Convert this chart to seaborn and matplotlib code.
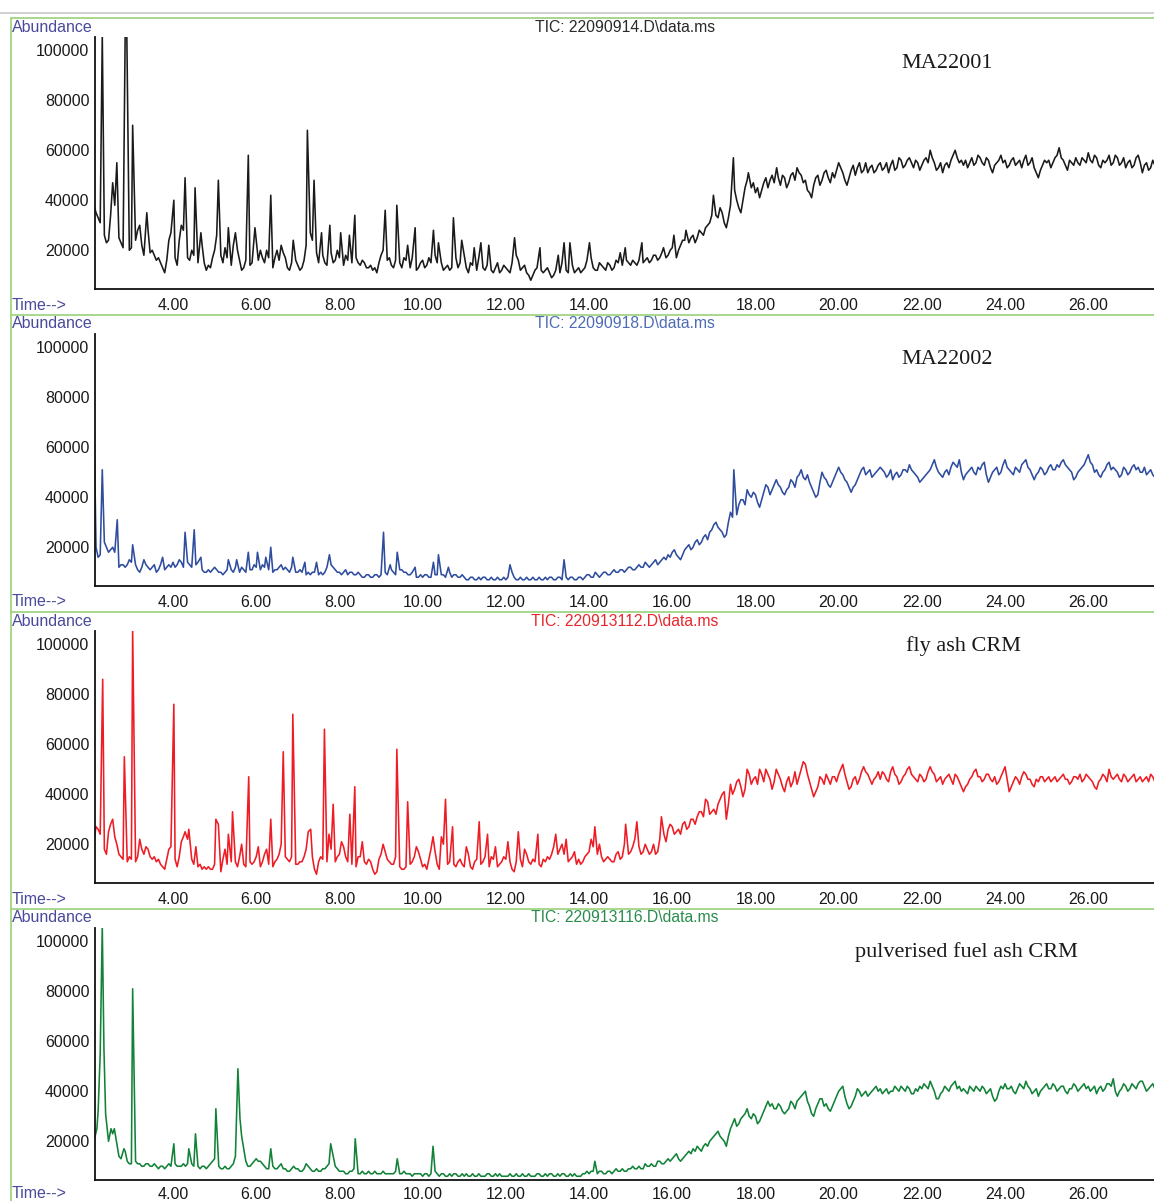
import numpy as np
import pandas as pd
import seaborn as sns
import matplotlib.pyplot as plt
from matplotlib.ticker import MultipleLocator, FormatStrFormatter
from matplotlib.lines import Line2D

sns.set_style('white')
plt.rcParams['font.family'] = ['Liberation Sans', 'DejaVu Sans']

# signal read every 0.1 min from 2.1 min (base) and halfway between (mid),
# plus peak apexes; all abundances in thousands of counts
scan_start = 2.1
scan_step = 0.1

ma22001_base = [38, 33, 30, 23, 34, 38, 25, 21, 24,
                21, 24, 30, 18, 28, 20, 16, 15, 11, 24,
                28, 14, 30, 24, 16, 18, 15, 22, 12, 13,
                20, 30, 15, 17, 14, 27, 16, 13, 18, 15,
                24, 20, 15, 17, 13, 20, 22, 17, 12, 18,
                14, 13, 22, 27, 22, 15, 18, 14, 19, 16,
                17, 14, 16, 15, 17, 14, 15, 13, 12, 11,
                18, 22, 17, 13, 18, 13, 16, 13, 15, 13,
                16, 14, 15, 18, 13, 12, 14, 13, 17, 15,
                18, 11, 14, 12, 15, 12, 13, 11, 15, 12,
                13, 11, 14, 16, 13, 11, 8, 12, 14, 11,
                13, 9, 12, 11, 13, 11, 14, 12, 11, 13,
                15, 13, 12, 14, 12, 14, 13, 15, 14, 16,
                14, 15, 16, 15, 17, 16, 18, 17, 19, 18,
                21, 17, 22, 24, 23, 26, 25, 27, 29, 31,
                36, 33, 35, 29, 38, 44, 37, 40, 48, 45,
                43, 41, 47, 45, 50, 52, 46, 49, 47, 51,
                53, 50, 48, 43, 46, 50, 48, 52, 47, 49,
                55, 51, 46, 52, 50, 55, 52, 51, 54, 52,
                55, 53, 51, 56, 53, 56, 54, 57, 53, 55,
                54, 57, 60, 55, 53, 51, 55, 56, 60, 55,
                54, 53, 57, 55, 57, 54, 56, 51, 55, 58,
                56, 54, 57, 55, 53, 58, 55, 53, 49, 54,
                55, 53, 57, 61, 56, 52, 55, 57, 54, 56,
                59, 55, 57, 53, 55, 58, 55, 57, 55, 53,
                56, 54, 58, 51, 55, 53, 54]
ma22001_mid = [35, 31, 26, 24, 42, 30, 23, 25, 20,
               26, 28, 22, 24, 19, 18, 17, 13, 16, 27,
               17, 24, 28, 17, 20, 16, 20, 15, 14, 17,
               26, 18, 21, 15, 22, 20, 12, 16, 14, 19,
               16, 17, 20, 14, 17, 16, 19, 13, 15, 16,
               12, 16, 30, 24, 19, 17, 15, 17, 15, 20,
               15, 18, 13, 19, 15, 16, 13, 14, 13, 15,
               20, 16, 14, 16, 15, 17, 14, 17, 12, 15,
               13, 17, 20, 15, 15, 13, 12, 19, 13, 14,
               13, 15, 11, 17, 13, 14, 12, 13, 11, 14,
               12, 15, 18, 12, 14, 10, 10, 13, 12, 12,
               11, 10, 14, 15, 12, 13, 11, 13, 12, 16,
               17, 12, 15, 13, 15, 12, 16, 13, 17, 15,
               16, 14, 17, 16, 15, 18, 16, 19, 17, 20,
               19, 20, 24, 21, 25, 23, 28, 26, 30, 34,
               34, 37, 31, 33, 46, 40, 35, 45, 44, 47,
               45, 44, 49, 48, 47, 49, 50, 45, 50, 48,
               51, 47, 44, 41, 49, 46, 51, 49, 51, 52,
               53, 48, 49, 54, 53, 51, 55, 53, 51, 54,
               52, 55, 54, 52, 57, 53, 56, 55, 56, 52,
               56, 55, 57, 52, 55, 54, 53, 58, 57, 56,
               56, 55, 54, 58, 55, 57, 53, 54, 56, 55,
               53, 56, 54, 56, 56, 54, 57, 51, 52, 56,
               56, 55, 58, 57, 54, 56, 54, 55, 57, 55,
               56, 58, 54, 56, 56, 54, 58, 54, 57, 55,
               53, 57, 55, 54, 52, 56]
ma22001_peak_t = [2.30, 2.55, 2.65, 2.85, 2.89, 3.03, 3.37, 4.02, 4.29, 4.53, 4.67, 5.09,
                  5.33, 5.81, 5.97, 6.35, 6.89, 7.23, 7.39, 7.57, 7.77, 8.03, 8.24, 8.37,
                  9.10, 9.38, 9.64, 9.82, 10.26, 10.38, 10.74, 10.94, 11.24, 11.40, 11.59,
                  12.21, 12.82, 13.26, 13.40, 13.54, 14.01, 14.75, 14.87, 15.27, 15.79,
                  16.04, 16.33, 16.99, 17.47, 17.83, 18.51]
ma22001_peak_k = [106, 47, 55, 106, 106, 70, 35, 40, 49, 45, 27, 48,
                  29, 58, 29, 42, 24, 68, 48, 27, 30, 27, 26, 34,
                  36, 38, 22, 29, 28, 23, 33, 24, 21, 23, 22,
                  25, 21, 18, 23, 23, 23, 19, 21, 23, 21,
                  26, 28, 42, 57, 51, 53]

ma22002_base = [72, 16, 20, 20, 19, 18, 12, 13, 13,
                14, 13, 10, 15, 12, 12, 10, 13, 11, 13,
                14, 13, 14, 13, 13, 14, 14, 11, 10, 10,
                12, 10, 9, 11, 11, 12, 10, 11, 12, 11,
                12, 11, 12, 11, 10, 11, 13, 12, 10, 11,
                10, 10, 9, 9, 10, 9, 9, 12, 13, 11,
                10, 10, 9, 10, 9, 9, 8, 9, 8, 9,
                9, 10, 9, 10, 12, 11, 10, 9, 9, 8,
                8, 9, 8, 9, 8, 9, 8, 8, 9, 8,
                8, 7, 8, 7, 7, 8, 7, 7, 8, 7,
                7, 9, 8, 7, 7, 8, 7, 7, 8, 7,
                7, 8, 7, 8, 7, 7, 8, 7, 8, 8,
                9, 8, 9, 9, 10, 9, 11, 10, 11, 11,
                12, 11, 13, 12, 13, 13, 15, 14, 16, 17,
                18, 17, 15, 19, 21, 20, 23, 22, 25, 26,
                29, 28, 26, 25, 34, 35, 37, 39, 43, 40,
                41, 36, 42, 44, 43, 47, 44, 41, 44, 46,
                48, 51, 47, 46, 42, 41, 50, 47, 44, 48,
                52, 49, 46, 42, 45, 49, 52, 50, 48, 50,
                52, 50, 49, 47, 50, 49, 51, 53, 50, 48,
                47, 49, 51, 55, 50, 48, 51, 52, 53, 55,
                47, 50, 52, 49, 51, 54, 46, 50, 52, 50,
                55, 51, 49, 51, 53, 55, 51, 47, 50, 51,
                50, 53, 51, 52, 55, 52, 50, 48, 51, 53,
                57, 53, 51, 48, 51, 54, 52, 50, 49, 51,
                50, 53, 52, 50, 49, 51, 48]
ma22002_mid = [20, 17, 22, 18, 20, 15, 13, 12, 15,
               12, 11, 12, 13, 11, 13, 11, 12, 12, 12,
               12, 15, 12, 14, 12, 13, 12, 10, 11, 11,
               11, 10, 10, 12, 10, 11, 12, 10, 11, 13,
               10, 13, 11, 12, 11, 12, 11, 11, 12, 10,
               11, 9, 10, 10, 9, 10, 10, 14, 12, 10,
               9, 11, 10, 9, 10, 8, 9, 8, 9, 8,
               10, 9, 11, 9, 11, 10, 9, 10, 8, 9,
               9, 8, 10, 9, 9, 8, 10, 9, 8, 9,
               7, 8, 7, 8, 8, 7, 8, 7, 7, 8,
               8, 10, 7, 8, 7, 7, 8, 7, 7, 8,
               8, 7, 8, 7, 8, 8, 7, 8, 7, 9,
               8, 10, 8, 10, 9, 10, 10, 11, 10, 12,
               11, 12, 12, 14, 12, 14, 13, 15, 15, 16,
               19, 16, 17, 20, 19, 22, 21, 24, 23, 27,
               30, 27, 24, 30, 32, 33, 39, 37, 41, 42,
               38, 39, 45, 41, 45, 45, 42, 43, 47, 44,
               49, 48, 49, 44, 40, 46, 48, 45, 46, 50,
               50, 47, 44, 44, 47, 51, 49, 51, 49, 51,
               51, 48, 51, 49, 48, 51, 50, 51, 49, 46,
               48, 50, 53, 52, 49, 50, 49, 54, 52, 50,
               49, 51, 50, 52, 53, 49, 48, 51, 49, 53,
               52, 50, 52, 50, 54, 52, 49, 49, 52, 49,
               52, 51, 53, 54, 53, 51, 47, 50, 52, 55,
               54, 50, 49, 50, 53, 51, 51, 48, 52, 49,
               52, 51, 50, 52, 50, 49]
ma22002_peak_t = [2.30, 2.66, 3.03, 3.75, 4.29, 4.51, 4.67, 5.33, 5.53, 5.81, 6.03, 6.23,
                  6.35, 6.88, 7.17, 7.45, 7.76, 9.06, 9.22, 9.39, 9.82, 10.26, 10.38,
                  10.62, 12.10, 13.40, 17.48]
ma22002_peak_k = [51, 31, 21, 16, 26, 27, 16, 15, 15, 18, 18, 16,
                  20, 16, 14, 14, 17, 26, 13, 18, 12, 14, 17,
                  12, 13, 15, 51]

flyash_base = [21, 26, 28, 16, 28, 23, 16, 14, 13,
               14, 13, 22, 16, 18, 14, 13, 12, 10, 18,
               20, 11, 21, 17, 20, 12, 11, 10, 10, 10,
               12, 20, 14, 12, 13, 13, 15, 12, 14, 12,
               15, 11, 16, 12, 11, 14, 20, 15, 13, 13,
               12, 13, 18, 20, 10, 13, 14, 13, 18, 13,
               16, 19, 13, 12, 11, 15, 13, 14, 10, 9,
               16, 17, 13, 12, 13, 10, 11, 12, 15, 17,
               11, 10, 18, 17, 10, 20, 12, 16, 11, 14,
               11, 16, 10, 14, 12, 15, 11, 14, 11, 13,
               14, 13, 9, 15, 11, 16, 12, 13, 12, 14,
               15, 16, 17, 18, 16, 13, 15, 12, 12, 15,
               17, 19, 16, 15, 14, 14, 13, 17, 15, 18,
               17, 22, 19, 17, 18, 17, 16, 22, 24, 26,
               27, 25, 24, 29, 27, 30, 31, 33, 35, 32,
               34, 36, 40, 30, 44, 42, 46, 39, 50, 44,
               47, 50, 45, 48, 42, 50, 46, 41, 47, 45,
               44, 50, 52, 45, 39, 43, 46, 48, 44, 47,
               48, 52, 45, 43, 47, 46, 51, 48, 44, 47,
               46, 48, 45, 51, 47, 45, 48, 51, 47, 45,
               47, 46, 51, 48, 46, 44, 47, 46, 48, 45,
               41, 44, 47, 50, 47, 46, 48, 45, 44, 47,
               51, 41, 45, 46, 47, 48, 46, 43, 45, 47,
               46, 45, 47, 46, 48, 46, 45, 47, 48, 46,
               47, 45, 42, 46, 47, 50, 46, 48, 45, 47,
               46, 48, 46, 45, 47, 48, 45]
flyash_mid = [27, 24, 18, 25, 30, 20, 15, 14, 15,
              20, 15, 18, 19, 15, 15, 14, 11, 14, 19,
              14, 15, 23, 22, 14, 19, 12, 11, 11, 10,
              25, 9, 18, 17, 12, 11, 20, 11, 13, 13,
              19, 13, 18, 14, 13, 16, 18, 14, 15, 12,
              13, 15, 25, 15, 8, 15, 14, 24, 14, 15,
              21, 15, 14, 13, 15, 21, 12, 13, 8, 14,
              20, 14, 12, 15, 11, 10, 12, 13, 19, 14,
              12, 14, 23, 12, 23, 13, 13, 12, 13, 12,
              19, 11, 13, 14, 13, 12, 15, 19, 12, 15,
              21, 10, 13, 14, 18, 13, 14, 15, 11, 13,
              14, 19, 16, 20, 22, 14, 17, 14, 13, 16,
              22, 17, 20, 13, 15, 13, 16, 14, 20, 16,
              19, 29, 16, 20, 16, 20, 17, 25, 21, 28,
              24, 26, 28, 26, 30, 28, 33, 31, 37, 33,
              32, 38, 41, 36, 40, 45, 43, 42, 48, 46,
              44, 48, 50, 46, 45, 48, 43, 45, 43, 49,
              47, 53, 48, 42, 41, 47, 44, 46, 47, 45,
              50, 48, 42, 46, 44, 49, 49, 46, 46, 49,
              49, 46, 49, 48, 44, 47, 50, 48, 46, 48,
              45, 49, 49, 45, 47, 46, 48, 44, 47, 43,
              43, 46, 49, 47, 45, 48, 46, 47, 45, 49,
              46, 43, 47, 44, 49, 46, 44, 46, 47, 45,
              47, 46, 45, 47, 46, 44, 47, 46, 45, 48,
              46, 43, 45, 48, 45, 47, 47, 46, 48, 45,
              47, 45, 47, 46, 45, 47]
flyash_peak_t = [2.31, 2.83, 3.03, 4.02, 4.29, 4.38, 5.03, 5.09, 5.33, 5.43, 5.82, 6.35,
                 6.65, 6.88, 7.31, 7.64, 7.85, 8.25, 8.37, 9.38, 9.64, 10.55, 10.72,
                 11.36, 11.56, 12.30, 12.77, 13.20, 14.14, 14.88, 15.74, 16.80]
flyash_peak_k = [86, 55, 106, 76, 25, 26, 30, 28, 24, 33, 47, 30,
                 57, 72, 26, 66, 36, 32, 43, 58, 37, 38, 27,
                 29, 24, 25, 24, 24, 27, 28, 31, 38]

pfa_base = [20, 32, 60, 24, 22, 22, 14, 15, 12,
            11, 12, 11, 10, 11, 10, 10, 10, 9, 11,
            12, 10, 10, 10, 12, 10, 10, 10, 9, 11,
            13, 10, 9, 9, 10, 14, 28, 17, 10, 11,
            13, 12, 10, 9, 10, 9, 11, 9, 8, 10,
            9, 8, 11, 9, 8, 8, 9, 10, 12, 10,
            8, 8, 7, 8, 8, 7, 7, 8, 7, 7,
            7, 7, 7, 7, 8, 7, 7, 7, 7, 7,
            6, 7, 7, 8, 6, 7, 6, 6, 7, 6,
            6, 6, 7, 6, 6, 6, 7, 6, 6, 6,
            6, 7, 6, 6, 7, 6, 6, 6, 7, 6,
            6, 7, 6, 6, 7, 6, 6, 6, 6, 7,
            7, 8, 7, 8, 7, 8, 8, 8, 9, 8,
            9, 9, 10, 9, 10, 11, 10, 12, 11, 13,
            13, 15, 12, 14, 16, 17, 18, 16, 19, 20,
            22, 24, 21, 18, 25, 29, 27, 30, 33, 29,
            30, 28, 32, 36, 35, 33, 34, 31, 33, 35,
            36, 38, 40, 34, 30, 35, 37, 35, 32, 36,
            40, 42, 35, 34, 38, 40, 39, 38, 40, 42,
            41, 40, 39, 40, 41, 42, 40, 41, 39, 40,
            41, 42, 44, 40, 37, 40, 41, 42, 44, 42,
            41, 39, 41, 42, 40, 41, 40, 38, 37, 42,
            43, 41, 40, 41, 42, 44, 41, 40, 38, 41,
            43, 41, 42, 41, 42, 39, 41, 42, 41, 43,
            42, 41, 39, 42, 41, 43, 45, 38, 41, 42,
            41, 42, 43, 44, 40, 42, 41]
pfa_mid = [25, 55, 45, 20, 23, 19, 13, 16, 11,
           12, 11, 10, 11, 10, 11, 9, 10, 10, 10,
           11, 10, 11, 11, 11, 12, 9, 10, 10, 12,
           12, 9, 10, 9, 11, 20, 22, 12, 10, 12,
           12, 11, 9, 10, 9, 10, 9, 8, 9, 9,
           8, 9, 10, 8, 9, 8, 9, 11, 14, 9,
           8, 7, 8, 9, 7, 8, 7, 7, 8, 7,
           8, 7, 7, 8, 7, 8, 7, 6, 7, 7,
           7, 6, 8, 7, 7, 6, 7, 7, 6, 7,
           7, 6, 6, 7, 6, 7, 6, 7, 7, 6,
           6, 6, 7, 6, 6, 7, 6, 7, 6, 7,
           7, 6, 7, 7, 6, 7, 7, 6, 7, 8,
           8, 7, 8, 7, 8, 7, 9, 8, 8, 9,
           10, 9, 9, 11, 10, 10, 12, 11, 12, 12,
           14, 13, 13, 15, 15, 16, 17, 18, 18, 21,
           23, 22, 20, 22, 27, 26, 29, 31, 30, 31,
           27, 30, 34, 34, 33, 35, 32, 32, 36, 33,
           37, 39, 36, 31, 33, 37, 34, 33, 34, 38,
           41, 38, 33, 36, 41, 38, 40, 39, 41, 40,
           39, 41, 40, 42, 40, 41, 42, 39, 41, 42,
           43, 41, 42, 37, 39, 42, 40, 43, 41, 40,
           40, 42, 40, 41, 42, 39, 41, 36, 40, 41,
           41, 42, 39, 43, 41, 42, 39, 41, 40, 42,
           41, 43, 40, 42, 40, 41, 43, 40, 42, 41,
           40, 42, 41, 40, 43, 42, 40, 40, 43, 40,
           43, 41, 44, 42, 41, 43]
pfa_peak_t = [2.17, 2.25, 2.30, 2.34, 2.38, 2.51, 2.59, 2.82, 3.03, 4.02, 4.38, 4.54,
              5.03, 5.56, 5.61, 6.35, 7.79, 8.38, 9.39, 10.25, 14.14]
pfa_peak_k = [25, 55, 106, 57, 31, 25, 25, 17, 81, 19, 17, 23,
              33, 49, 29, 17, 19, 21, 13, 18, 12]

titles = ['TIC: 22090914.D\\data.ms', 'TIC: 22090918.D\\data.ms',
          'TIC: 220913112.D\\data.ms', 'TIC: 220913116.D\\data.ms']
samples = ['MA22001', 'MA22002', 'fly ash CRM', 'pulverised fuel ash CRM']
line_colors = ['#1a1a1a', '#2f4d9e', '#ee1c24', '#118238']
title_colors = ['#2a2a2a', '#4d6cb5', '#e8262b', '#2a8c4c']
sample_x = [947, 947, 963, 966]
sample_y = [63, 359, 646, 952]


def build_trace(base, mid, peak_t, peak_k):
    t_base = np.round(scan_start + scan_step * np.arange(len(base)), 2)
    t_mid = np.round(scan_start + scan_step / 2 + scan_step * np.arange(len(mid)), 3)
    t = np.concatenate([t_base, t_mid])
    v = np.concatenate([base, mid])
    pt = np.array(peak_t)
    keep = np.array([np.min(np.abs(pt - x)) > 0.025 for x in t])
    df = pd.DataFrame({'time': np.concatenate([t[keep], pt]),
                       'abundance': np.concatenate([v[keep], peak_k]) * 1000.0})
    return df.sort_values('time').reset_index(drop=True)


traces = [build_trace(ma22001_base, ma22001_mid, ma22001_peak_t, ma22001_peak_k),
          build_trace(ma22002_base, ma22002_mid, ma22002_peak_t, ma22002_peak_k),
          build_trace(flyash_base, flyash_mid, flyash_peak_t, flyash_peak_k),
          build_trace(pfa_base, pfa_mid, pfa_peak_t, pfa_peak_k)]

W, H = 1154, 1201
fig = plt.figure(figsize=(W / 100, H / 100), dpi=100)
label_blue = '#4a4a9c'
frame_green = '#a3d483'


def fx(px):
    return px / W


def fy(py):
    return 1 - py / H


for i, df in enumerate(traces):
    off = 297 * i
    last = i == len(traces) - 1
    ax = fig.add_axes([fx(95), fy(289 + off), (W - 95) / W, 252 / H])
    sns.lineplot(data=df, x='time', y='abundance', ax=ax, color=line_colors[i],
                 linewidth=1.15, estimator=None, sort=False)
    ax.set_xlim(2.125, 27.58)
    ax.set_ylim(4500, 105300)
    ax.set_xlabel('')
    ax.set_ylabel('')
    sns.despine(ax=ax)
    for s in ['left', 'bottom']:
        ax.spines[s].set_linewidth(1.3)
        ax.spines[s].set_color('#111111')
    ax.xaxis.set_major_locator(MultipleLocator(2))
    ax.xaxis.set_minor_locator(MultipleLocator(0.4))
    ax.xaxis.set_major_formatter(FormatStrFormatter('%.2f'))
    ax.yaxis.set_major_locator(MultipleLocator(20000))
    ax.yaxis.set_minor_locator(MultipleLocator(4000))
    ax.yaxis.set_major_formatter(FormatStrFormatter('%d'))
    ax.tick_params(axis='x', which='major', direction='out', length=5, width=1.1,
                   pad=0.2 if last else 1.5, labelsize=11.5, labelcolor='#1a1a1a',
                   color='#111111')
    ax.tick_params(axis='x', which='minor', direction='out', length=3, width=1.0, color='#111111')
    ax.tick_params(axis='y', which='major', direction='out', length=3.5, width=1.0,
                   pad=0.5, labelsize=11.5, labelcolor='#1a1a1a', color='#111111')
    ax.tick_params(axis='y', which='minor', direction='out', length=2, width=0.8, color='#111111')

    fig.text(fx(12), fy(27 + off), 'Abundance', fontsize=11.5, color=label_blue,
             ha='left', va='center')
    fig.text(fx(12), fy(303 + off if last else 305 + off), 'Time-->', fontsize=11.5,
             color=label_blue, ha='left', va='center')
    fig.text(fx(625), fy(27 + off), titles[i], fontsize=11.3, color=title_colors[i],
             ha='center', va='center')
    fig.text(fx(sample_x[i]), fy(sample_y[i]), samples[i], fontsize=16,
             family='Liberation Serif', color='#1a1a1a', ha='center', va='center')

# frame lines of the report page
fig.add_artist(Line2D([0, 1], [fy(13), fy(13)], color='#c8c8c8', lw=1.2))
for off in [18, 315, 612, 909]:
    fig.add_artist(Line2D([fx(11), 1], [fy(off), fy(off)], color=frame_green, lw=1.3))
fig.add_artist(Line2D([fx(11), fx(11)], [fy(18), 0], color=frame_green, lw=1.3))

fig.savefig('out.png', dpi=100)
